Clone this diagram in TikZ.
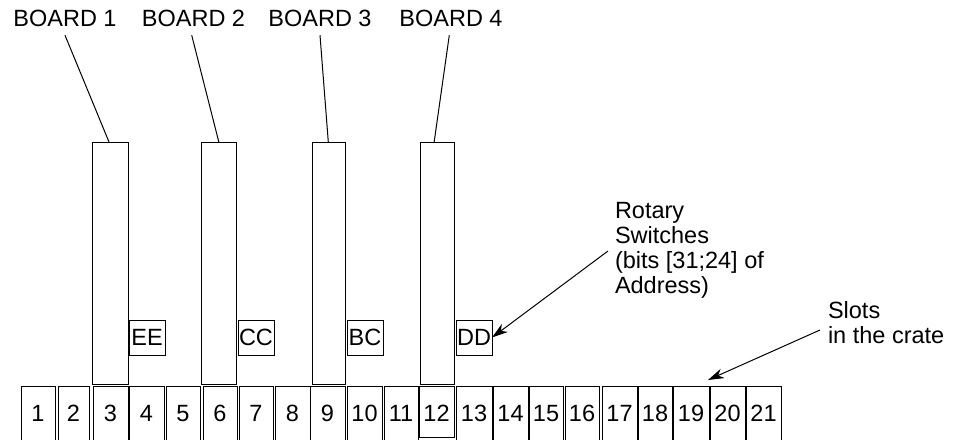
\documentclass[tikz,border=0pt]{standalone}
\usepackage{fontspec}
\setmainfont{Liberation Sans}
\usetikzlibrary{arrows.meta,calc}
\begin{document}
\begin{tikzpicture}[x=1pt,y=-1pt,
  every node/.style={font=\fontsize{23.5}{25}\selectfont, inner sep=0pt, outer sep=0pt},
  ln/.style={line width=1pt, black},
  boardbox/.style={draw, line width=1pt, anchor=north west, minimum height=241.3},
  swbox/.style={draw, line width=1pt, anchor=north west, minimum width=36, minimum height=35},
  slotbox/.style={draw, line width=1pt, anchor=north},
  arr/.style={line width=1pt, -{Stealth[length=16pt,width=10pt,inset=5pt]}}
]
\useasboundingbox (0,0) rectangle (958,439);

% slots
\foreach \n/\l/\r in {1/21/55,2/58/89,3/93/128,4/129/164,5/166/200,6/203/237,7/239/273,
  8/275/310,9/310/345,10/347/382,11/384/418,13/456/492,14/493/528,15/529/563,
  16/565/599,17/602/637,18/638/672,19/673/709,20/710/745,21/746/781}
  \node[slotbox, minimum width=\r-\l, minimum height=55] (s\n) at ({(\l+\r)/2},386) {\n};
\node[slotbox, minimum width=35, minimum height=51.5, text height=20.3pt] (s12) at (436.5,386) {12};

% boards
\node[boardbox, minimum width=35.6] (b1) at (92.7,142.7) {};
\node[boardbox, minimum width=35] (b2) at (201.8,142.7) {};
\node[boardbox, minimum width=33.5] (b3) at (312.3,142.7) {};
\node[boardbox, minimum width=33.5] (b4) at (420.8,142.7) {};

% rotary switches
\node[swbox] (ee) at (129,320) {EE};
\node[swbox] (cc) at (238,320) {CC};
\node[swbox] (bc) at (347,320) {BC};
\node[swbox] (dd) at (456,320) {DD};

% board labels
\node[anchor=base] (l1) at (65,26) {BOARD 1};
\node[anchor=base] (l2) at (193.5,26) {BOARD 2};
\node[anchor=base] (l3) at (320,26) {BOARD 3};
\node[anchor=base] (l4) at (451,26) {BOARD 4};

\draw[ln] ([yshift=-9]l1.south) -- ([xshift=-1.2]b1.north);
\draw[ln] ([xshift=-1.8,yshift=-9]l2.south) -- ([xshift=-0.3]b2.north);
\draw[ln] ([yshift=-9]l3.south) -- ([xshift=-0.7]b3.north);
\draw[ln] ([xshift=-1.7,yshift=-9]l4.south) -- ([xshift=-3.5]b4.north);

% annotations
\node[anchor=base west] (r1) at (615,218.5) {Rotary};
\node[anchor=base west] (r2) at (615,243) {Switches};
\node[anchor=base west] (r3) at (615,268) {(bits [31;24] of};
\node[anchor=base west] (r4) at (615,293) {Address)};
\coordinate (rs) at (608,251);
\draw[arr] (rs) -- (dd.east);

\node[anchor=base west] (t1) at (828,318) {Slots};
\node[anchor=base west] (t2) at (828,343) {in the crate};
\coordinate (ss) at (820,330);
\coordinate (st) at (708,380);
\draw[arr] (ss) -- (st);
\end{tikzpicture}
\end{document}
